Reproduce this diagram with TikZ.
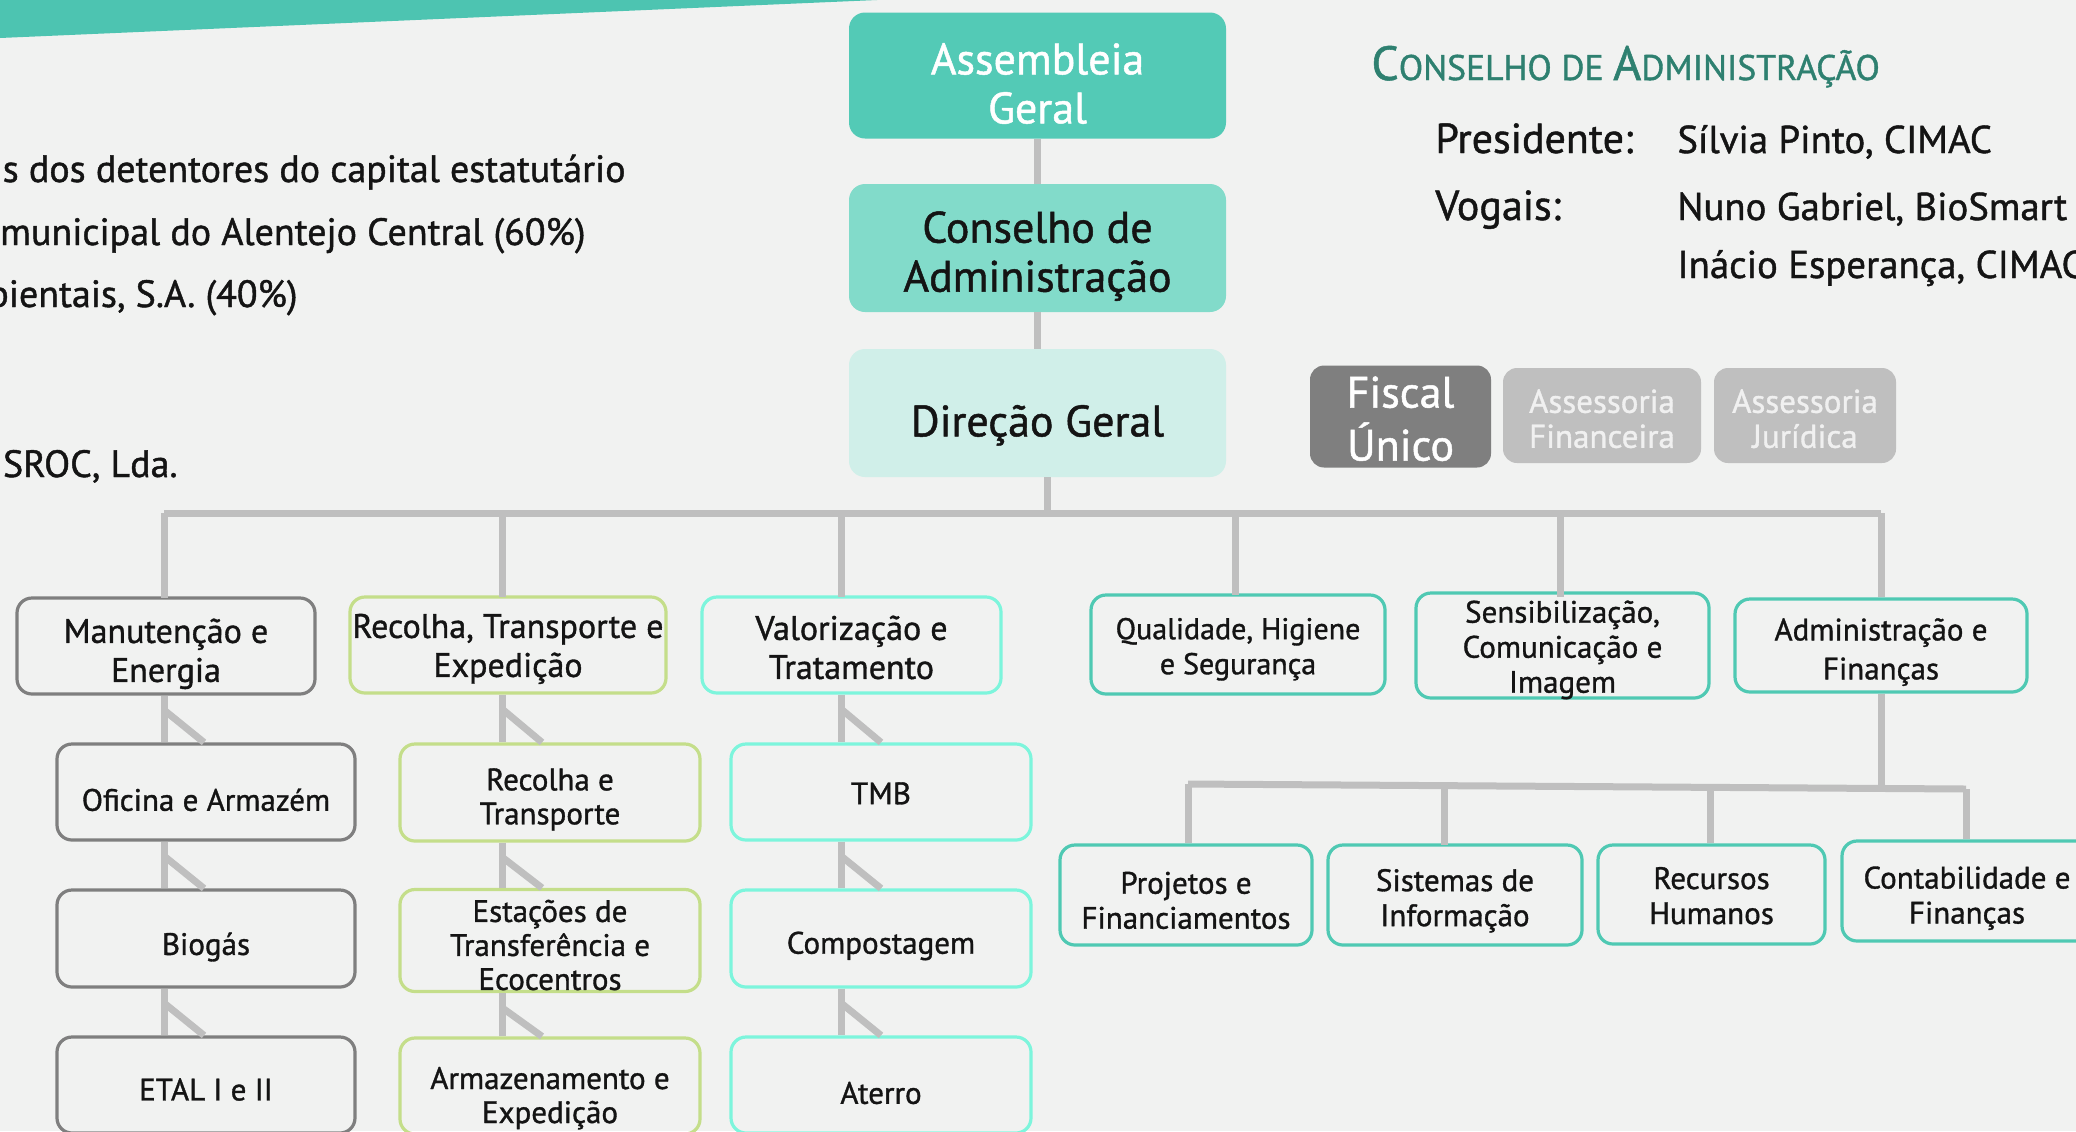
\documentclass[tikz,border=0pt]{standalone}
\usepackage{fontspec}
\setmainfont{PT Sans}[FakeBold=1.1]
\usetikzlibrary{calc}
\definecolor{bgcol}{HTML}{F1F2F1}
\definecolor{bandcol}{HTML}{4DC4B1}
\definecolor{agcol}{HTML}{53CAB6}
\definecolor{cacol}{HTML}{82DBCA}
\definecolor{dgcol}{HTML}{D0EFE9}
\definecolor{fiscol}{HTML}{7F7F7F}
\definecolor{asscol}{HTML}{BFBFBF}
\definecolor{asstext}{HTML}{F0F0F0}
\definecolor{linecol}{HTML}{BFBFBF}
\definecolor{headcol}{HTML}{2E8070}
\definecolor{grayb}{HTML}{7F7F7F}
\definecolor{greenb}{HTML}{C4DE8A}
\definecolor{aquab}{HTML}{7DF5DC}
\definecolor{tealb}{HTML}{4FC9B3}
\definecolor{txt}{HTML}{141414}
\newcommand{\scbig}[1]{{\fontsize{24}{28}\selectfont #1}}
\newcommand{\scsmall}[1]{{\fontsize{17.8}{28}\selectfont #1}}
% text block lowered inside its box, without changing the box size
\newcommand{\dn}[2][3pt]{\raisebox{-#1}[\height][\depth]{\begin{tabular}{@{}c@{}}#2\end{tabular}}}
\begin{document}
\begin{tikzpicture}[x=0.5pt,y=-0.5pt,
  conn/.style={draw=linecol,line width=3.5pt},
  topbox/.style={rounded corners=8pt,minimum width=188.5pt,minimum height=63pt,align=center,inner sep=0pt,
    font=\fontsize{22}{24.5}\selectfont},
  sidebox/.style={rounded corners=7pt,minimum height=47.5pt,align=center,inner sep=0pt},
  unit/.style={rounded corners=7.5pt,line width=1.6pt,align=center,inner sep=0pt,text=txt,
    font=\fontsize{15.5}{19.5}\selectfont},
  lvbox/.style={unit,minimum width=149pt,minimum height=48pt,font=\fontsize{17}{19.5}\selectfont},
  colbox/.style={unit,minimum width=149pt,minimum height=48pt,font=\fontsize{15.5}{17}\selectfont},
  rbox/.style={unit,font=\fontsize{15.5}{17.5}\selectfont},
  plain/.style={inner sep=0pt,text=txt,font=\fontsize{19}{24}\selectfont},
  board/.style={inner sep=0pt,text=txt,font=\fontsize{21}{24}\selectfont},
  names/.style={inner sep=0pt,text=txt,font=\fontsize{19.4}{24}\selectfont}]
\useasboundingbox (0,0) rectangle (2076,1131);
\begin{scope}
\clip (0,0) rectangle (2076,1131);
\fill[bgcol] (0,0) rectangle (2076,1131);
\fill[bandcol] (0,0) -- (877,0) -- (0,38) -- cycle;

% left text
\node[plain,anchor=base east] (t1) at (626,182) {s dos detentores do capital estatutário};
\node[plain,anchor=base east] (t2) at (586,245) {municipal do Alentejo Central (60\%)};
\node[plain,anchor=base east] (t3) at (298,307) {bientais, S.A. (40\%)};
\node[plain,anchor=base east] (t4) at (178,477) {SROC, Lda.};

% governing bodies
\node[topbox,fill=agcol,text=white] (A) at (1037.5,75.5) {\dn[6.8pt]{Assembleia\\Geral}};
\node[topbox,fill=cacol,text=txt,minimum height=64pt] (C) at (1037.5,248) {\dn[4.7pt]{Conselho de\\Administração}};
\node[topbox,fill=dgcol,text=txt,minimum height=64pt] (D) at (1037.5,413) {\dn[6.8pt]{Direção Geral}};
\draw[conn] (A.south) -- (C.north);
\draw[conn] (C.south) -- (D.north);

\node[sidebox,fill=fiscol,text=white,minimum width=90.5pt,font=\fontsize{22}{24.5}\selectfont] (F) at (1400.5,416.5) {\dn[3.9pt]{Fiscal\\Único}};
\node[sidebox,fill=asscol,text=asstext,minimum width=99pt,font=\fontsize{16.5}{17.5}\selectfont] (AF) at (1602,415.5) {\dn[3.9pt]{Assessoria\\Financeira}};
\node[sidebox,fill=asscol,text=asstext,minimum width=91pt,font=\fontsize{16.5}{17.5}\selectfont] (AJ) at (1805,415.5) {\dn[3.9pt]{Assessoria\\Jurídica}};

% board composition
\node[inner sep=0pt,anchor=base west,text=headcol] (H) at (1371,80) {\scbig{C}\scsmall{ONSELHO DE }\scbig{A}\scsmall{DMINISTRAÇÃO}};
\node[board,anchor=base west] (p1) at (1435,153) {Presidente:};
\node[names,anchor=base west] (p2) at (1677,153) {Sílvia Pinto, CIMAC};
\node[board,anchor=base west] (v1) at (1435,220) {Vogais:};
\node[names,anchor=base west] (v2) at (1677,220) {Nuno Gabriel, BioSmart};
\node[names,anchor=base west] (v3) at (1677,278) {Inácio Esperança, CIMAC};

% level 2
\node[lvbox,draw=grayb] (M) at (166,646) {\dn[4.3pt]{Manutenção e\\Energia}};
\node[lvbox,draw=greenb,minimum width=158pt] (R) at (508,645) {\dn[2.3pt]{Recolha, Transporte e\\Expedição}};
\node[lvbox,draw=aquab,minimum width=149.5pt] (V) at (851.5,645) {\dn[3.3pt]{Valorização e\\Tratamento}};
\node[rbox,draw=tealb,minimum width=147pt,minimum height=49.5pt,font=\fontsize{15}{17.5}\selectfont] (Q) at (1238,644.5) {\dn[2.6pt]{Qualidade, Higiene\\e Segurança}};
\node[rbox,draw=tealb,minimum width=146.5pt,minimum height=48.5pt] (S) at (1562.5,645.5) {\dn[2.6pt]{Sensibilização,\\Comunicação e\\Imagem}};
\node[unit,draw=tealb,minimum width=146pt,minimum height=46.5pt] (AD) at (1881,645.5) {\dn[3.3pt]{Administração e\\Finanças}};

\coordinate (bar) at (1047,513);
\coordinate (barL) at (164,513);
\coordinate (barR) at (1881,513);
\draw[conn] (bar |- D.south) -- (bar);
\draw[conn] (barL) -- (barR);
\draw[conn] (164,513) -- (164,598);
\draw[conn] (502,513) -- (502,597);
\draw[conn] (841,513) -- (841,597);
\draw[conn] (1235,513) -- (1235,595);
\draw[conn] (1560,513) -- (1560,597);
\draw[conn] (1881,513) -- (AD.north);

% columns
\node[colbox,draw=grayb] (O) at (206,792) {\dn[6pt]{Oficina e Armazém}};
\node[colbox,draw=grayb,minimum height=48.5pt] (B) at (206,938.5) {\dn[4.8pt]{Biogás}};
\node[colbox,draw=grayb] (E) at (206,1085) {\dn[4.3pt]{ETAL I e II}};
\node[colbox,draw=greenb,minimum width=150pt,minimum height=48.5pt] (RT) at (550,792.5) {\dn[4pt]{Recolha e\\Transporte}};
\node[colbox,draw=greenb,minimum width=150pt,minimum height=49.5pt] (ET) at (550,940.5) {\dn[4.3pt]{Estações de\\Transferência e\\Ecocentros}};
\node[colbox,draw=greenb,minimum width=150pt] (AE) at (550,1086) {\dn[6.6pt]{Armazenamento e\\Expedição}};
\node[colbox,draw=aquab,minimum width=150pt] (T) at (881,792) {\dn[2.7pt]{TMB}};
\node[colbox,draw=aquab,minimum width=150pt,minimum height=48.5pt] (CO) at (881,938.5) {\dn[4.2pt]{Compostagem}};
\node[colbox,draw=aquab,minimum width=150pt] (AT) at (881,1085) {\dn[6pt]{Aterro}};

\foreach \u/\l/\x in {M/O/164,O/B/164,B/E/164,R/RT/502,RT/ET/502,ET/AE/502,V/T/841,T/CO/841,CO/AT/841}{
  \draw[conn] (\x,0 |- \u.south) -- (\x,0 |- \l.north);
  \draw[conn] ($(\x,0 |- \u.south)+(2,16)$) -- ($(\x,0 |- \l.north)+(40,0)$);
}

% administration sub units
\node[rbox,draw=tealb,minimum width=126pt,minimum height=50pt] (P) at (1186,895) {\dn[4.6pt]{Projetos e\\Financiamentos}};
\node[rbox,draw=tealb,minimum width=127pt,minimum height=50pt] (SI) at (1455,895) {\dn[3.3pt]{Sistemas de\\Informação}};
\node[rbox,draw=tealb,minimum width=113.5pt,minimum height=49.5pt] (RH) at (1711.5,894.5) {\dn[2.5pt]{Recursos\\Humanos}};
\node[rbox,draw=tealb,minimum width=125pt,minimum height=50pt] (CF) at (1967,891) {\dn[4pt]{Contabilidade e\\Finanças}};
\coordinate (sbL) at (1188,784);
\coordinate (sbR) at (1966,789);
\draw[conn] (AD.south) -- (1881,787);
\draw[conn] (sbL) -- (sbR);
\draw[conn] (sbL) -- (P.north -| sbL);
\draw[conn] (1444,786) -- (1444,845);
\draw[conn] (1710,787.5) -- (RH.north -| 1710,0);
\draw[conn] (sbR) -- (CF.north -| sbR);
\end{scope}
\end{tikzpicture}
\end{document}
